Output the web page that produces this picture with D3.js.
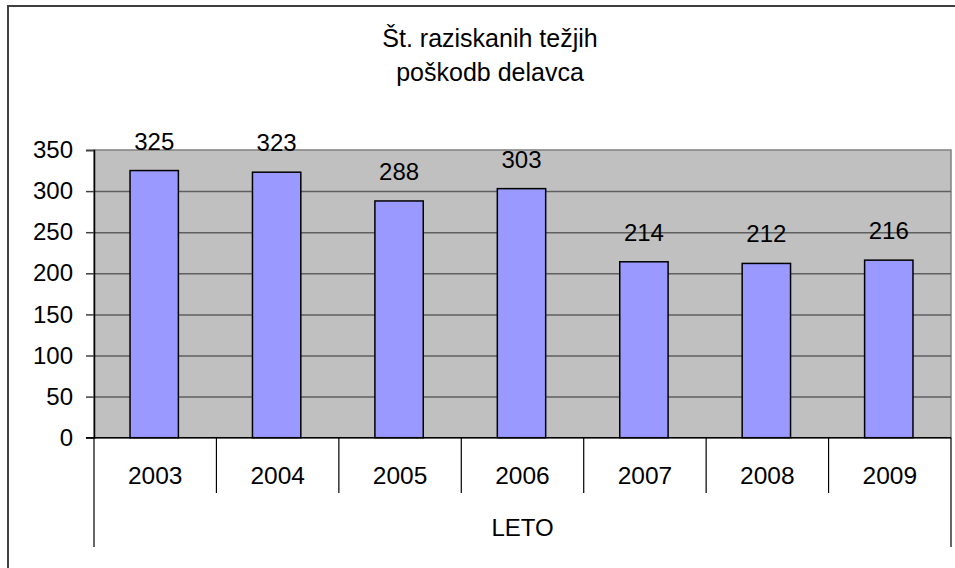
<!DOCTYPE html>
<html>
<head>
<meta charset="utf-8">
<script src="https://cdn.jsdelivr.net/npm/d3@7/dist/d3.min.js"></script>
<style>
  body{margin:0;background:#fff;overflow:hidden}
  text{font-family:"Liberation Sans",Arial,sans-serif;fill:#000}
</style>
</head>
<body>
<svg id="chart" width="955" height="568"></svg>
<script>
const years=["2003","2004","2005","2006","2007","2008","2009"]
const values=[325,323,288,303,214,212,216]
const yTicks=[0,50,100,150,200,250,300,350]
const titleLines=["Št. raziskanih težjih","poškodb delavca"]
const axisTitle="LETO"

const svg=d3.select("#chart")
const plotL=94,plotR=951,plotT=150,plotB=437.7

// outer chart frame (runs past the right / bottom edge of the picture)
svg.append("rect")
  .attr("x",8).attr("y",6)
  .attr("width",1000).attr("height",620)
  .attr("fill","#fff")
  .attr("stroke","#404040")
  .attr("stroke-width",2)

const xscale=d3.scaleBand().domain(years).range([plotL,plotR]).padding(0)
const yscale=d3.scaleLinear().domain([0,350]).range([plotB,plotT])

// plot area
svg.append("rect")
  .attr("x",plotL).attr("y",plotT)
  .attr("width",plotR-plotL).attr("height",plotB-plotT)
  .attr("fill","#c0c0c0")
  .attr("stroke","#808080")
  .attr("stroke-width",1.5)

// gridlines
const grid=d3.axisLeft(yscale).tickValues(yTicks.filter(d=>d>0 && d<350)).tickSize(-(plotR-plotL)).tickFormat("")
svg.append("g")
  .attr("transform",`translate(${plotL},0)`)
  .call(grid)
  .call(g=>g.select(".domain").remove())
  .selectAll("line")
  .attr("stroke","#5f5f5f")
  .attr("stroke-width",1.5)

// bars
const bw=xscale.bandwidth()*0.395
svg.selectAll("rect.bar")
  .data(values)
  .enter()
  .append("rect")
  .attr("class","bar")
  .attr("x",(d,i)=>xscale(years[i])+xscale.bandwidth()/2-bw/2-1)
  .attr("y",d=>yscale(d))
  .attr("width",bw)
  .attr("height",d=>plotB-yscale(d))
  .attr("fill","#9999ff")
  .attr("stroke","#000")
  .attr("stroke-width",1.5)

// value labels
svg.selectAll("text.val")
  .data(values)
  .enter()
  .append("text")
  .attr("class","val")
  .attr("x",(d,i)=>xscale(years[i])+xscale.bandwidth()/2-1)
  .attr("y",d=>yscale(d)-21)
  .attr("text-anchor","middle")
  .style("font-size","24px")
  .text(d=>d)

// y axis
const yaxis=d3.axisLeft(yscale).tickValues(yTicks).tickSize(8).tickPadding(13)
svg.append("g")
  .attr("transform",`translate(${plotL},0)`)
  .call(yaxis)
  .call(g=>g.select(".domain").attr("stroke","#000").attr("stroke-width",1.5))
  .call(g=>g.selectAll("line").attr("stroke","#404040").attr("stroke-width",1.5))
  .call(g=>g.selectAll("text").style("font-size","24px").attr("fill","#000"))
  .attr("font-family",null)

// category axis
svg.append("line")
  .attr("x1",plotL-8).attr("x2",plotR)
  .attr("y1",plotB).attr("y2",plotB)
  .attr("stroke","#000").attr("stroke-width",1.5)
const bounds=years.map(d=>xscale(d)).concat([plotR])
svg.selectAll("line.cat")
  .data(bounds)
  .enter()
  .append("line")
  .attr("class","cat")
  .attr("x1",d=>d).attr("x2",d=>d)
  .attr("y1",plotB)
  .attr("y2",(d,i)=>(i===0||i===bounds.length-1)?547:493)
  .attr("stroke","#000")
  .attr("stroke-width",1.2)
svg.selectAll("text.cat")
  .data(years)
  .enter()
  .append("text")
  .attr("class","cat")
  .attr("x",d=>xscale(d)+xscale.bandwidth()/2)
  .attr("y",484)
  .attr("text-anchor","middle")
  .style("font-size","24.5px")
  .text(d=>d)
svg.append("text")
  .attr("x",(plotL+plotR)/2)
  .attr("y",536)
  .attr("text-anchor","middle")
  .style("font-size","24px")
  .text(axisTitle)

// title
svg.selectAll("text.title")
  .data(titleLines)
  .enter()
  .append("text")
  .attr("class","title")
  .attr("x",490)
  .attr("y",(d,i)=>47+i*34)
  .attr("text-anchor","middle")
  .style("font-size","25px")
  .text(d=>d)
</script>
</body>
</html>
